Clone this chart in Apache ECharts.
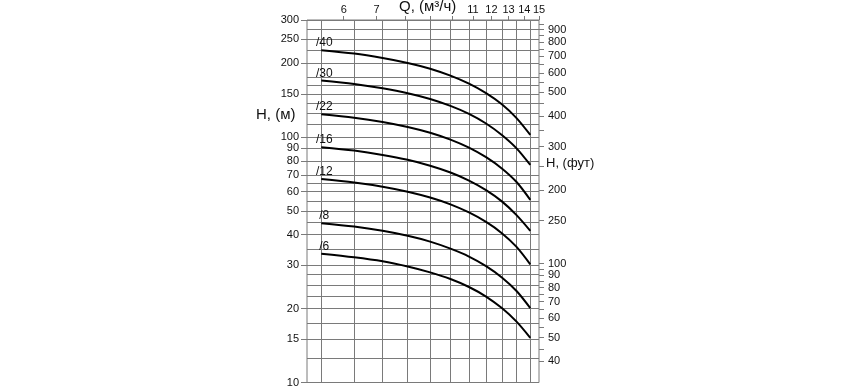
<!DOCTYPE html>
<html><head><meta charset="utf-8">
<script src="https://cdn.jsdelivr.net/npm/echarts@6/dist/echarts.min.js"></script>
<style>html,body{margin:0;padding:0;background:#fff}#c{width:868px;height:388px}</style>
</head><body><div id="c"></div>
<script>
// Flow points (m³/h) where the curves were read
const qPoints = [5.4, 6.3, 7.2, 8.1, 9.0, 9.9, 10.8, 11.7, 12.6, 13.5, 14.4];
const curveNames = ['/40', '/30', '/22', '/16', '/12', '/8', '/6'];
const h40 = [226, 219, 210, 200.5, 190, 178, 165, 151, 136, 119.5, 102];
const h30 = [170, 164.5, 158, 151, 143, 134, 124.3, 113.6, 102, 90, 77];
const h22 = [124, 120, 115.3, 110, 104.2, 97.7, 90.6, 82.8, 74.5, 65.6, 55.5];
const h16 = [91, 88.1, 84.6, 80.8, 76.4, 71.7, 66.5, 60.8, 54.7, 48.1, 41.5];
const h12 = [67.5, 65.3, 62.8, 59.9, 56.7, 53.2, 49.3, 45.1, 40.6, 35.7, 30.3];
const h8 = [44.6, 43.2, 41.5, 39.6, 37.5, 35.1, 32.6, 29.8, 26.8, 23.6, 20.1];
const h6 = [33.5, 32.4, 31.2, 29.7, 28.1, 26.4, 24.5, 22.4, 20.1, 17.7, 15.2];
const curves = [h40, h30, h22, h16, h12, h8, h6];

// Axes
const qTickValues = [6, 7, 8, 9, 10, 11, 12, 13, 14, 15];
const qLabelValues = [6, 7, 11, 12, 13, 14, 15];
const qGridValues = [5.4, 6.3, 7.2, 8.1, 9.0, 9.9, 10.8, 11.7, 12.6, 13.5, 14.4];
const hLabelValues = [10, 15, 20, 30, 40, 50, 60, 70, 80, 90, 100, 150, 200, 250, 300];
const hGridValues = [10, 12.5, 15, 17.5, 20, 22.5, 25, 27.5, 30, 35, 40, 45, 50, 55, 60, 65, 70, 80, 90, 100, 112.5, 125, 137.5, 150, 162.5, 175, 200, 225, 250, 275, 300];
const ftLabelValues = [40, 50, 60, 70, 80, 90, 100, 150, 200, 300, 400, 500, 600, 700, 800, 900];
const ftLabelTexts = ['40', '50', '60', '70', '80', '90', '100', '250', '200', '300', '400', '500', '600', '700', '800', '900'];
const ftMinorValues = [45, 55, 65, 75, 85, 95, 250, 350, 450, 550, 650, 750, 850, 950];

const FT_PER_M = 3.28084;
const FONT = 'Liberation Sans, Arial, sans-serif';
const TXT = '#111';
const GRIDC = '#7a7a7a';

const chart = echarts.init(document.getElementById('c'), null, {renderer: 'canvas'});

const series = curves.map((arr, i) => ({
  type: 'line',
  xAxisIndex: 0,
  yAxisIndex: 0,
  smooth: 0.3,
  showSymbol: true,
  symbol: 'circle',
  symbolSize: 0.1,
  itemStyle: {color: '#000'},
  lineStyle: {color: '#000', width: 2},
  label: {show: false},
  data: arr.map((h, j) => j === 0
    ? {value: [qPoints[j], h], label: {show: true, position: 'top', distance: 1, offset: [3, 0], formatter: curveNames[i], color: TXT, fontSize: 12, fontFamily: FONT}}
    : {value: [qPoints[j], h]}),
  silent: true,
  animation: false
}));

const option = {
  animation: false,
  grid: {left: 307, top: 20, width: 232, height: 363, show: true, borderColor: GRIDC, borderWidth: 1, backgroundColor: 'transparent'},
  xAxis: [
    {
      type: 'log', position: 'top', min: 5.05, max: 15,
      axisLine: {show: false},
      axisTick: {show: true, inside: false, length: 4, customValues: qTickValues, lineStyle: {color: GRIDC}},
      axisLabel: {show: true, customValues: qLabelValues, margin: 5, color: TXT, fontSize: 11, fontFamily: FONT, formatter: v => String(Math.round(v))},
      splitLine: {show: false}
    },
    {
      type: 'log', position: 'bottom', min: 5.05, max: 15,
      axisLine: {show: false},
      axisTick: {show: false, customValues: qGridValues},
      axisLabel: {show: false},
      splitLine: {show: true, lineStyle: {color: GRIDC, width: 1}}
    }
  ],
  yAxis: [
    {
      type: 'log', position: 'left', min: 10, max: 300,
      axisLine: {show: false},
      axisTick: {show: true, length: 6, customValues: hLabelValues, lineStyle: {color: GRIDC}},
      axisLabel: {show: true, customValues: hLabelValues, margin: 8, color: TXT, fontSize: 11, fontFamily: FONT, formatter: v => String(Math.round(v))},
      splitLine: {show: false}
    },
    {
      type: 'log', position: 'right', min: 10 * FT_PER_M, max: 300 * FT_PER_M,
      axisLine: {show: false},
      axisTick: {show: true, length: 5, customValues: ftLabelValues.concat(ftMinorValues), lineStyle: {color: GRIDC}},
      axisLabel: {show: true, customValues: ftLabelValues, margin: 9, color: TXT, fontSize: 11, fontFamily: FONT,
        formatter: v => { const k = ftLabelValues.indexOf(Math.round(v)); return k >= 0 ? ftLabelTexts[k] : ''; }},
      splitLine: {show: false}
    },
    {
      type: 'log', position: 'left', min: 10, max: 300,
      axisLine: {show: false},
      axisTick: {show: false, customValues: hGridValues},
      axisLabel: {show: false},
      splitLine: {show: true, lineStyle: {color: GRIDC, width: 1}}
    }
  ],
  graphic: [
    {type: 'text', left: 256, top: 107, style: {text: 'H, (м)', fontSize: 15, fontFamily: FONT, fill: TXT}},
    {type: 'text', left: 546, top: 157, style: {text: 'H, (фут)', fontSize: 13, fontFamily: FONT, fill: TXT}},
    {type: 'text', left: 399, top: -1, style: {text: 'Q, (м³/ч)', fontSize: 15, fontFamily: FONT, fill: TXT}}
  ],
  series: series
};
chart.setOption(option);
</script>
</body></html>
